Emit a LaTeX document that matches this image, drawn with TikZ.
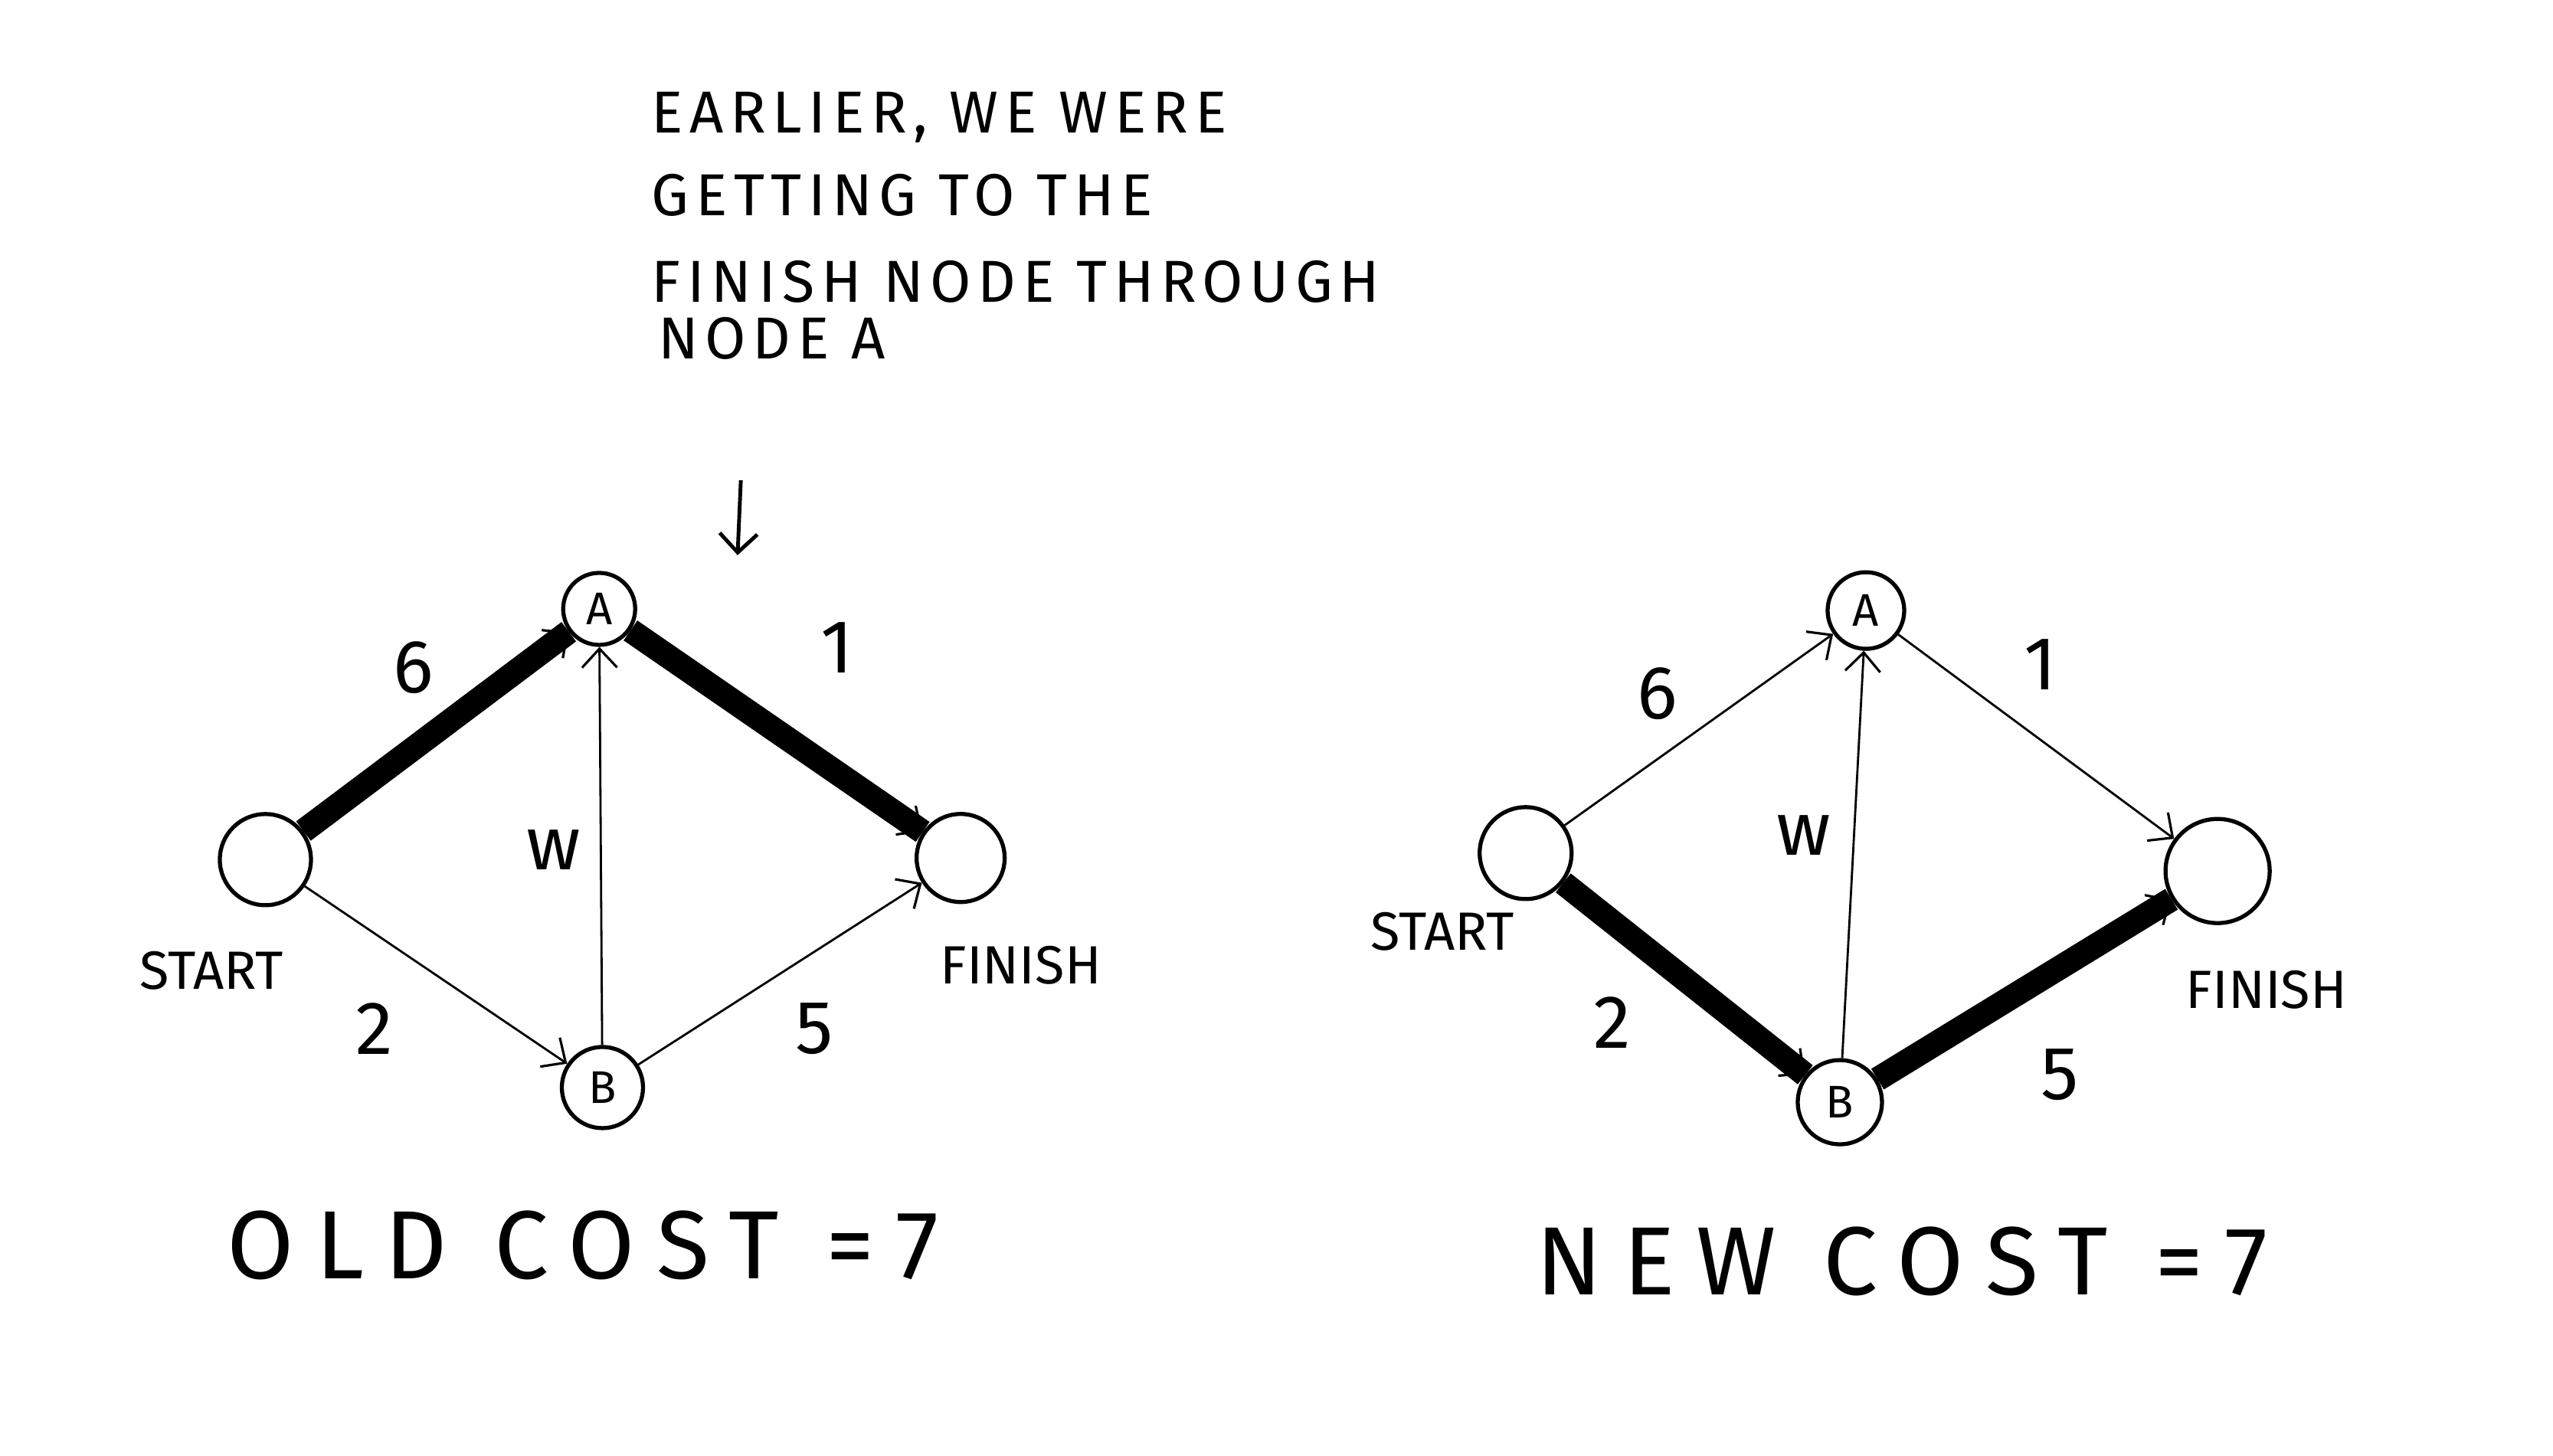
\documentclass[tikz,border=0pt]{standalone}
\usepackage{fontspec}
\setmainfont{Fira Sans}
\usetikzlibrary{arrows.meta,positioning}

\begin{document}
\begin{tikzpicture}[x=0.021256cm, y=-0.021256cm,
    vertex/.style={circle, draw, line width=1.5pt, inner sep=0pt,
                   font=\fontsize{17}{17}\selectfont},
    edge/.style={-{Straight Barb[length=7pt, width=13pt, line width=0.9pt]},
                 line width=0.8pt},
    heavy/.style={line width=9pt},
    tag/.style={font=\fontsize{20}{20}\selectfont},
    weight/.style={font=\fontsize{28}{28}\selectfont},
    note/.style={anchor=west, inner sep=0pt,
                 font=\fontsize{22}{22}\selectfont\addfontfeature{LetterSpace=11}},
    cost/.style={font=\fontsize{36}{36}\selectfont\addfontfeature{LetterSpace=22}}
  ]
  \useasboundingbox (0,0) rectangle (1568,894);

  % note above the old path
  \node[note] (note1) at (400, 72)  {EARLIER, WE WERE};
  \node[note] (note2) at (400,120)  {GETTING TO THE};
  \node[note] (note3) at (400,173)  {FINISH NODE THROUGH};
  \node[note] (note4) at (404,208)  {NODE A};
  \coordinate (ptop) at (455,295);
  \coordinate (pbot) at (453,341);
  \draw[-{Straight Barb[length=7pt, width=14pt]}, line width=1.4pt] (ptop) -- (pbot);

  % old graph
  \node[vertex, minimum size=1.19cm] (s1) at (163,528) {};
  \node[vertex, minimum size=0.94cm] (a1) at (368,374) {A};
  \node[vertex, minimum size=1.06cm] (b1) at (370,668) {B};
  \node[vertex, minimum size=1.15cm] (f1) at (590,527) {};

  \draw[heavy] (s1) -- (a1);
  \draw[heavy] (a1) -- (f1);
  \draw[edge] (s1) -- (a1);
  \draw[edge] (a1) -- (f1);
  \draw[edge] (s1) -- (b1);
  \draw[edge] (b1) -- (a1);
  \draw[edge] (b1) -- (f1);

  \node[tag] (st1) at (130,596) {START};
  \node[tag] (fi1) at (627,593) {FINISH};
  \node[weight] (w6a) at (254,410) {6};
  \node[weight] (w1a) at (514,398) {1};
  \node[weight] (wwa) at (340,522) {w};
  \node[weight] (w2a) at (230,632) {2};
  \node[weight] (w5a) at (500,632) {5};
  \node[cost] (old) at (358,765) {OLD COST =7};

  % new graph
  \node[vertex, minimum size=1.2cm]  (s2) at (937,524) {};
  \node[vertex, minimum size=1.0cm]  (a2) at (1146,375) {A};
  \node[vertex, minimum size=1.1cm]  (b2) at (1130,677) {B};
  \node[vertex, minimum size=1.36cm] (f2) at (1362,535) {};

  \draw[heavy] (s2) -- (b2);
  \draw[heavy] (b2) -- (f2);
  \draw[edge] (s2) -- (b2);
  \draw[edge] (b2) -- (f2);
  \draw[edge] (s2) -- (a2);
  \draw[edge] (a2) -- (f2);
  \draw[edge] (b2) -- (a2);

  \node[tag] (st2) at (886,572) {START};
  \node[tag] (fi2) at (1392,608) {FINISH};
  \node[weight] (w6b) at (1018,426) {6};
  \node[weight] (w1b) at (1253,408) {1};
  \node[weight] (wwb) at (1108,513) {w};
  \node[weight] (w2b) at (990,628) {2};
  \node[weight] (w5b) at (1265,660) {5};
  \node[cost] (new) at (1168,775) {NEW COST =7};
\end{tikzpicture}
\end{document}
